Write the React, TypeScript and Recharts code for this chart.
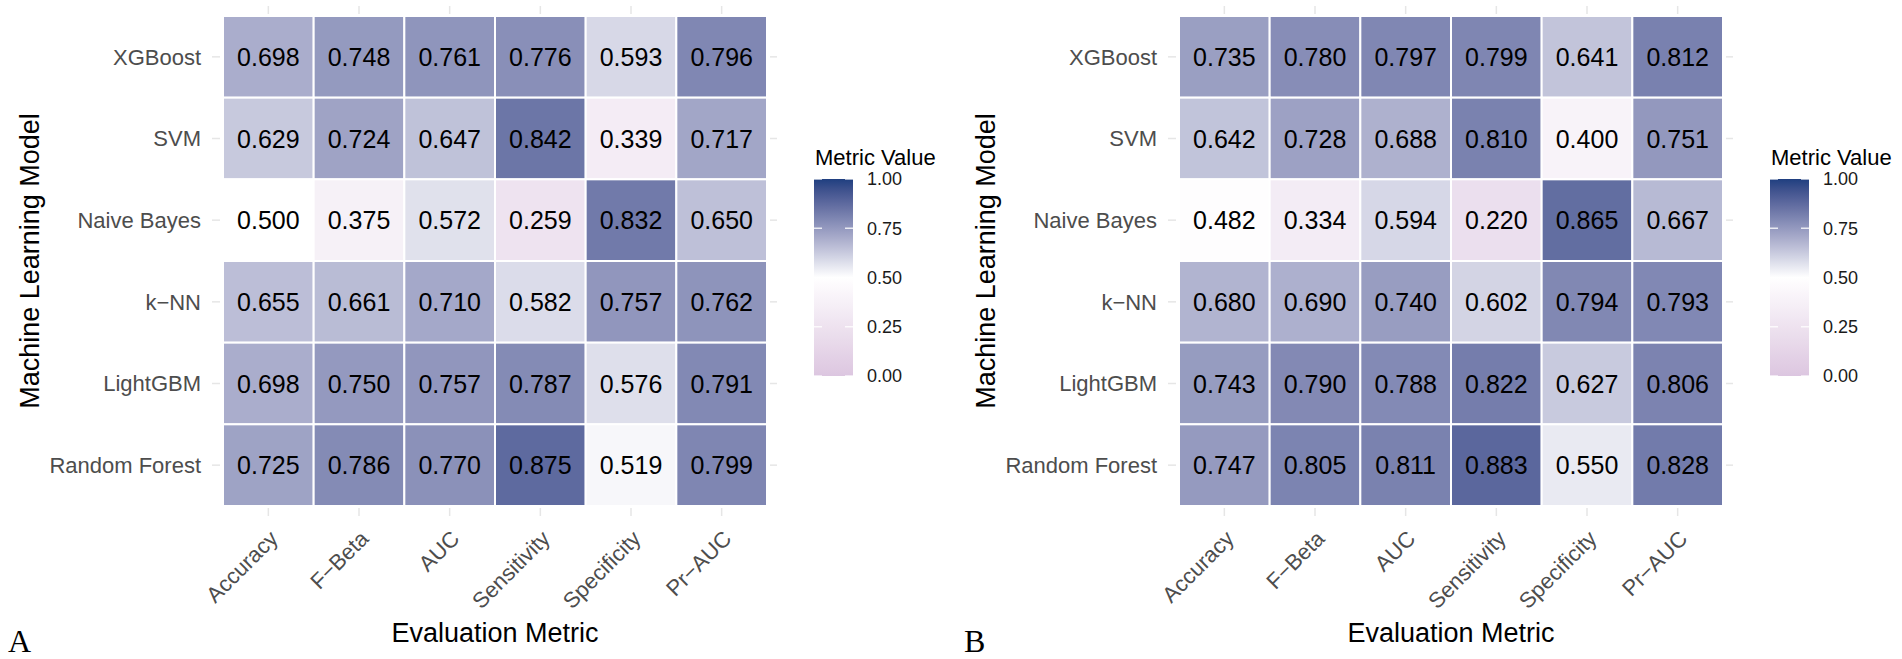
import React from "react";
import { ScatterChart, Scatter, XAxis, YAxis, Legend } from "recharts";

const metrics = ["Accuracy", "F−Beta", "AUC", "Sensitivity", "Specificity", "Pr−AUC"];
const models = ["XGBoost", "SVM", "Naive Bayes", "k−NN", "LightGBM", "Random Forest"];
const legendBreaks = [1, 0.75, 0.5, 0.25, 0];

// panel A
const xgboostA = [0.698, 0.748, 0.761, 0.776, 0.593, 0.796];
const svmA = [0.629, 0.724, 0.647, 0.842, 0.339, 0.717];
const naiveBayesA = [0.5, 0.375, 0.572, 0.259, 0.832, 0.65];
const knnA = [0.655, 0.661, 0.71, 0.582, 0.757, 0.762];
const lightgbmA = [0.698, 0.75, 0.757, 0.787, 0.576, 0.791];
const randomForestA = [0.725, 0.786, 0.77, 0.875, 0.519, 0.799];

// panel B
const xgboostB = [0.735, 0.78, 0.797, 0.799, 0.641, 0.812];
const svmB = [0.642, 0.728, 0.688, 0.81, 0.4, 0.751];
const naiveBayesB = [0.482, 0.334, 0.594, 0.22, 0.865, 0.667];
const knnB = [0.68, 0.69, 0.74, 0.602, 0.794, 0.793];
const lightgbmB = [0.743, 0.79, 0.788, 0.822, 0.627, 0.806];
const randomForestB = [0.747, 0.805, 0.811, 0.883, 0.55, 0.828];

const CHART_W = 951;
const CHART_H = 659;
const PLOT_W = 544;
const PLOT_H = 490;
const YAXIS_W = 200;
const XAXIS_H = 140;
const TOP = 16;

// gradient2 in Lab space, like ggplot
const hexToRgb = (h: string) => [1, 3, 5].map((i) => parseInt(h.slice(i, i + 2), 16));
const lin = (c: number) => {
  c /= 255;
  return c <= 0.04045 ? c / 12.92 : Math.pow((c + 0.055) / 1.055, 2.4);
};
const unlin = (c: number) => {
  const v = c <= 0.0031308 ? 12.92 * c : 1.055 * Math.pow(c, 1 / 2.4) - 0.055;
  return Math.max(0, Math.min(255, Math.round(v * 255)));
};
const f = (t: number) => (t > 0.008856 ? Math.cbrt(t) : 7.787 * t + 16 / 116);
const finv = (t: number) => (t * t * t > 0.008856 ? t * t * t : (t - 16 / 116) / 7.787);
const toLab = (rgb: number[]) => {
  const [r, g, b] = rgb.map(lin);
  const x = (0.4124 * r + 0.3576 * g + 0.1805 * b) / 0.95047;
  const y = 0.2126 * r + 0.7152 * g + 0.0722 * b;
  const z = (0.0193 * r + 0.1192 * g + 0.9505 * b) / 1.08883;
  return [116 * f(y) - 16, 500 * (f(x) - f(y)), 200 * (f(y) - f(z))];
};
const fromLab = ([L, a, bb]: number[]) => {
  const fy = (L + 16) / 116;
  const x = finv(fy + a / 500) * 0.95047;
  const y = finv(fy);
  const z = finv(fy - bb / 200) * 1.08883;
  const r = 3.2406 * x - 1.5372 * y - 0.4986 * z;
  const g = -0.9689 * x + 1.8758 * y + 0.0415 * z;
  const b = 0.0557 * x - 0.204 * y + 1.057 * z;
  return `rgb(${unlin(r)},${unlin(g)},${unlin(b)})`;
};
const LOW = toLab(hexToRgb("#dcc6e0"));
const MID = toLab([255, 255, 255]);
const HIGH = toLab(hexToRgb("#1f3f80"));
const fillFor = (v: number) => {
  const [p, q, t] = v < 0.5 ? [LOW, MID, v / 0.5] : [MID, HIGH, (v - 0.5) / 0.5];
  return fromLab(p.map((c, i) => c + (q[i] - c) * t));
};

const toCells = (rows: number[][]) =>
  models.flatMap((model, i) => rows[i].map((value, j) => ({ model, metric: metrics[j], value })));

const cellsA = toCells([xgboostA, svmA, naiveBayesA, knnA, lightgbmA, randomForestA]);
const cellsB = toCells([xgboostB, svmB, naiveBayesB, knnB, lightgbmB, randomForestB]);

const Tile = (props: any) => {
  const { cx, cy, payload } = props;
  const w = PLOT_W / metrics.length;
  const h = PLOT_H / models.length;
  return (
    <g>
      <rect x={cx - w / 2} y={cy - h / 2} width={w} height={h} fill={fillFor(payload.value)} stroke="#fff" strokeWidth={2} />
      <text x={cx} y={cy} dy="0.36em" textAnchor="middle" fontSize={25} fill="#000">
        {payload.value.toFixed(3)}
      </text>
    </g>
  );
};

const GRID = "#e6e6e6";

const YTick = ({ x, y, payload }: any) => (
  <g>
    <line x1={x - 11} x2={x - 3} y1={y} y2={y} stroke={GRID} strokeWidth={1.5} />
    <line x1={x + PLOT_W + 3} x2={x + PLOT_W + 10} y1={y} y2={y} stroke={GRID} strokeWidth={1.5} />
    <text x={x - 22} y={y} dy="0.35em" textAnchor="end" fontSize={22} fill="#4d4d4d">
      {payload.value}
    </text>
  </g>
);

const XTick = ({ x, y, payload }: any) => (
  <g>
    <line x1={x} x2={x} y1={y + 2} y2={y + 10} stroke={GRID} strokeWidth={1.5} />
    <line x1={x} x2={x} y1={y - PLOT_H - 10} y2={y - PLOT_H - 2} stroke={GRID} strokeWidth={1.5} />
    <text transform={`translate(${x + 11},${y + 34}) rotate(-45)`} textAnchor="end" fontSize={22} fill="#4d4d4d">
      {payload.value}
    </text>
  </g>
);

const ColorBar = ({ id }: { id: string }) => {
  const barX = 5;
  const barY = 39;
  const barW = 39;
  const barH = 197;
  const stops = Array.from({ length: 21 }, (_, i) => i / 20);
  return (
    <svg width={160} height={260}>
      <defs>
        <linearGradient id={id} x1="0" y1="1" x2="0" y2="0">
          {stops.map((s) => (
            <stop key={s} offset={s} stopColor={fillFor(s)} />
          ))}
        </linearGradient>
      </defs>
      <text x={6} y={25} fontSize={22} fill="#000">
        Metric Value
      </text>
      <rect x={barX} y={barY} width={barW} height={barH} fill={`url(#${id})`} />
      {legendBreaks.map((v) => {
        const y = barY + (1 - v) * barH;
        return (
          <g key={v}>
            <line x1={barX} x2={barX + 8} y1={y} y2={y} stroke="#fff" strokeOpacity={0.8} strokeWidth={1.5} />
            <line x1={barX + barW - 8} x2={barX + barW} y1={y} y2={y} stroke="#fff" strokeOpacity={0.8} strokeWidth={1.5} />
            <text x={barX + barW + 14} y={y} dy="0.35em" fontSize={18} fill="#1a1a1a">
              {v.toFixed(2)}
            </text>
          </g>
        );
      })}
    </svg>
  );
};

function Heatmap({ cells, marginLeft, id }: { cells: any[]; marginLeft: number; id: string }) {
  const marginRight = CHART_W - marginLeft - YAXIS_W - PLOT_W;
  const legendLeft = marginLeft + YAXIS_W + PLOT_W + 42;
  return (
    <ScatterChart
      width={CHART_W}
      height={CHART_H}
      margin={{ top: TOP, right: marginRight, bottom: CHART_H - TOP - PLOT_H - XAXIS_H, left: marginLeft }}
    >
      <XAxis
        type="category"
        dataKey="metric"
        allowDuplicatedCategory={false}
        height={XAXIS_H}
        axisLine={false}
        tickLine={false}
        tickSize={0}
        tickMargin={0}
        interval={0}
        tick={<XTick />}
        label={{ value: "Evaluation Metric", position: "insideBottom", offset: 4, fontSize: 27, fill: "#000" }}
      />
      <YAxis
        type="category"
        dataKey="model"
        allowDuplicatedCategory={false}
        reversed
        width={YAXIS_W}
        axisLine={false}
        tickLine={false}
        tickSize={0}
        tickMargin={0}
        interval={0}
        tick={<YTick />}
        label={{
          value: "Machine Learning Model",
          angle: -90,
          position: "insideLeft",
          offset: 6,
          fontSize: 27,
          fill: "#000",
          style: { textAnchor: "middle" },
        }}
      />
      <Legend
        layout="vertical"
        align="center"
        verticalAlign="middle"
        wrapperStyle={{ left: legendLeft, top: 140, width: 160, height: 260 }}
        content={() => <ColorBar id={id} />}
      />
      <Scatter data={cells} shape={<Tile />} isAnimationActive={false} />
    </ScatterChart>
  );
}

export default function App() {
  return (
    <div
      style={{
        position: "absolute",
        left: 0,
        top: 0,
        width: 1902,
        height: 659,
        background: "#fff",
        fontFamily: "'Liberation Sans', Arial, sans-serif",
      }}
    >
      <div style={{ position: "absolute", left: 0, top: 0 }}>
        <Heatmap cells={cellsA} marginLeft={23} id="gradA" />
      </div>
      <div style={{ position: "absolute", left: CHART_W, top: 0 }}>
        <Heatmap cells={cellsB} marginLeft={28} id="gradB" />
      </div>
      <svg style={{ position: "absolute", left: 0, top: 0, pointerEvents: "none" }} width={1902} height={659}>
        <text x={8} y={652} fontSize={32} fontFamily="'Liberation Serif', 'Times New Roman', serif" fill="#000">
          A
        </text>
        <text x={964} y={652} fontSize={32} fontFamily="'Liberation Serif', 'Times New Roman', serif" fill="#000">
          B
        </text>
      </svg>
    </div>
  );
}
